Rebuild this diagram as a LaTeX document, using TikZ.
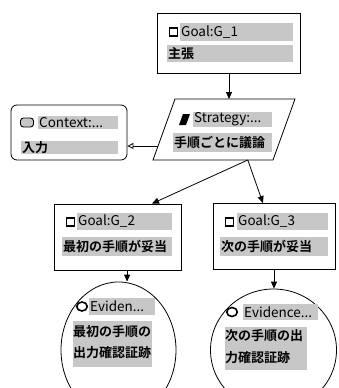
\documentclass[tikz,border=0pt]{standalone}
\usepackage{fontspec}
\setmainfont{Noto Sans CJK JP}[BoldFont={Noto Sans CJK JP Bold}]
\usetikzlibrary{shapes.geometric,arrows.meta,calc}
\definecolor{hlgray}{gray}{0.78}
\newcommand\myfs{\fontsize{13.5}{15}\selectfont}
\newcommand\myjp{\fontsize{13}{15}\selectfont\bfseries}
\begin{document}
\begin{tikzpicture}[x=1pt,y=-1pt,
  box/.style={draw, line width=0.8pt, inner sep=0pt, fill=white},
  hl/.style={fill=hlgray, inner xsep=1pt, inner ysep=0pt, anchor=west, align=left, font=\myfs},
  hljp/.style={hl, font=\myjp},
  txt/.style={inner sep=0pt, anchor=west, font=\myjp},
  hlblock/.style={fill=hlgray, inner sep=0pt, anchor=north west},
  supported/.style={line width=0.8pt, -{Triangle[length=7pt,width=6pt]}},
  incontext/.style={line width=0.8pt, -{Triangle[open,length=6pt,width=6pt]}},
  goalicon/.style={draw, line width=1.4pt, minimum width=8.5pt, minimum height=8pt, inner sep=0pt},
  evicon/.style={draw, ellipse, line width=1.6pt, minimum width=10.5pt, minimum height=9pt, inner sep=0pt},
]
\useasboundingbox (0,0) rectangle (339,388);

% Goal G_1
\node[box, minimum width=143pt, minimum height=60pt] (G1) at (229,43) {};
\node[goalicon] (G1i) at (173.5,32) {};
\node[hl, text width=111pt, minimum height=18pt] (G1a) at (180,32) {Goal:G\_1};
\node[hljp, text width=124pt, minimum height=17pt] (G1b) at (167,53.5) {主張};

% Strategy (parallelogram)
\coordinate (Stl) at (175,99);
\coordinate (Str) at (295,99);
\coordinate (Sbr) at (273,160);
\coordinate (Sbl) at (153,160);
\draw[line width=0.8pt, fill=white] (Stl) -- (Str) -- (Sbr) -- (Sbl) -- cycle;
\fill (179,125) -- (183,114) -- (190,114) -- (186,125) -- cycle;
\node[hl, text width=77pt, minimum height=15pt] (Sa) at (193,119.5) {Strategy:...};
\node[hljp, text width=97pt, minimum height=19pt] (Sb) at (173,142.5) {手順ごとに議論};

% Context
\node[box, rounded corners=6pt, minimum width=116pt, minimum height=55pt] (C) at (69,132.5) {};
\node[draw, fill=gray!45, line width=0.9pt, rounded corners=3pt, minimum width=13pt, minimum height=9pt, inner sep=0pt] (Ci) at (27,122.5) {};
\node[hl, text width=78pt, minimum height=13pt] (Ca) at (38,122.5) {Context:...};
\node[hljp, text width=95pt, minimum height=13pt] (Cb) at (21,147.5) {入力};

% Goal G_2
\node[box, minimum width=127pt, minimum height=66pt] (G2) at (117.5,237) {};
\node[goalicon] (G2i) at (70.5,222) {};
\node[hl, text width=93pt, minimum height=17pt] (G2a) at (77,221.5) {Goal:G\_2};
\node[hljp, text width=108pt, minimum height=19pt] (G2b) at (62,246.5) {最初の手順が妥当};

% Goal G_3
\node[box, minimum width=122pt, minimum height=66pt] (G3) at (274,236.5) {};
\node[goalicon] (G3i) at (229.5,222) {};
\node[hl, text width=89pt, minimum height=17pt] (G3a) at (237,221.5) {Goal:G\_3};
\node[hljp, text width=106pt, minimum height=19pt] (G3b) at (220,246.5) {次の手順が妥当};

% Evidence 1
\node[box, ellipse, minimum width=115pt, minimum height=136pt] (E1) at (118.5,350) {};
\node[evicon] (E1i) at (82,306.5) {};
\node[hl, text width=64pt, minimum height=17pt] (E1a) at (89,306.5) {Eviden...};
\node[hlblock, minimum width=79pt, minimum height=46pt] (E1b) at (73,321) {};
\node[txt] (E1c) at (73,332) {最初の手順の};
\node[txt] (E1d) at (73,353) {出力確認証跡};

% Evidence 2
\node[box, ellipse, minimum width=126pt, minimum height=122pt] (E2) at (273.5,350) {};
\node[evicon] (E2i) at (232,312) {};
\node[hl, text width=73pt, minimum height=16pt] (E2a) at (243,312) {Evidence...};
\node[hlblock, minimum width=82pt, minimum height=43pt] (E2b) at (225,327) {};
\node[txt] (E2c) at (225,336) {次の手順の出};
\node[txt] (E2d) at (225,358) {力確認証跡};

% connectors
\draw[supported] (G1.south) -- (G1.south |- Stl);
\coordinate (sb) at ($(Sbl)!0.79!(Sbr)$);
\coordinate (g2t) at ($(G2.north west)!0.77!(G2.north east)$);
\coordinate (g3t) at ($(G3.north west)!0.41!(G3.north east)$);
\draw[supported] (sb) -- (g2t);
\draw[supported] (sb) -- (g3t);
\coordinate (sl) at ($(Sbl)!0.23!(Stl)$);
\draw[incontext] (sl) -- (sl -| C.east);
\coordinate (g2b) at ($(G2.south west)!0.575!(G2.south east)$);
\draw[supported] (g2b) -- (g2b |- E1.north);
\draw[supported] (G3.south) -- (G3.south |- E2.north);
\end{tikzpicture}
\end{document}
